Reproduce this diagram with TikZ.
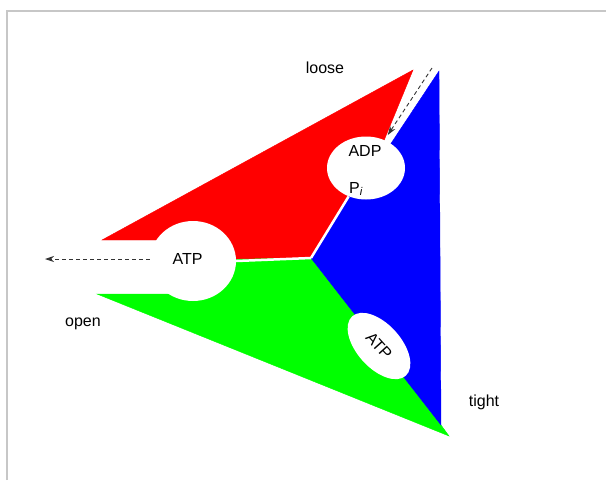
\documentclass[tikz,border=0pt]{standalone}
\usepackage{fontspec}
\setmainfont{Liberation Sans}
\usetikzlibrary{shapes.geometric,arrows.meta}
\tikzset{
	hole/.style={ellipse,fill=white,inner sep=0pt},
	flow/.style={dash pattern=on 4pt off 3pt,line width=0.9pt,color=black!80,-{Stealth[length=9pt,width=6pt]}},
	gap/.style={white,line width=2.5pt},
	lbl/.style={font=\fontsize{16}{19}\selectfont,anchor=base,inner sep=0pt}
}
\begin{document}
\begin{tikzpicture}[x=1pt,y=-1pt]
			\useasboundingbox (0,0) rectangle (606,480);
			\draw[color=black!22,line width=1.3pt] (7,480) -- (7,11) -- (606,11);
			\coordinate (mid) at (311,258);
			\coordinate (openout) at (45,259);
			\coordinate (loosein) at (432,68);
			% the three sectors
			\draw[fill,color=red] (102,240) -- (413,70) -- (376,160) -- (366,168) -- (mid) -- (193,260) -- (193,240) -- cycle;
			\draw[fill,color=green] (97,294) -- (193,294) -- (193,260) -- (mid) -- (441,425) -- (449,436) -- cycle;
			\draw[fill,color=blue] (mid) -- (366,168) -- (380,160) -- (439,71) -- (441,425) -- cycle;
			% binding sites
			\node[hole,minimum width=86pt,minimum height=80pt] (atpO) at (193,261) {};
			\node[hole,minimum width=78pt,minimum height=63pt] (adp) at (366,168) {};
			\node[hole,minimum width=80pt,minimum height=44pt,rotate=-48,font=\fontsize{16}{19}\selectfont] (atpT) at (379,346) {ATP};
			\draw[gap] (mid) -- (atpO.east);
			\draw[gap] (mid) -- (adp);
			\node[lbl] at (187.5,264) {ATP};
			\node[lbl] at (365,156) {ADP};
			\node[lbl] at (356,193) {P\textsubscript{\itshape i}};
			% substrate in and product out
			\draw[flow] (atpO.west |- openout) -- (openout);
			\draw[flow,shorten >=6pt] (loosein) -- (adp);
			\node[lbl] at (325,73) {loose};
			\node[lbl] at (83,326) {open};
			\node[lbl] at (484,406) {tight};
			\end{tikzpicture}
\end{document}
